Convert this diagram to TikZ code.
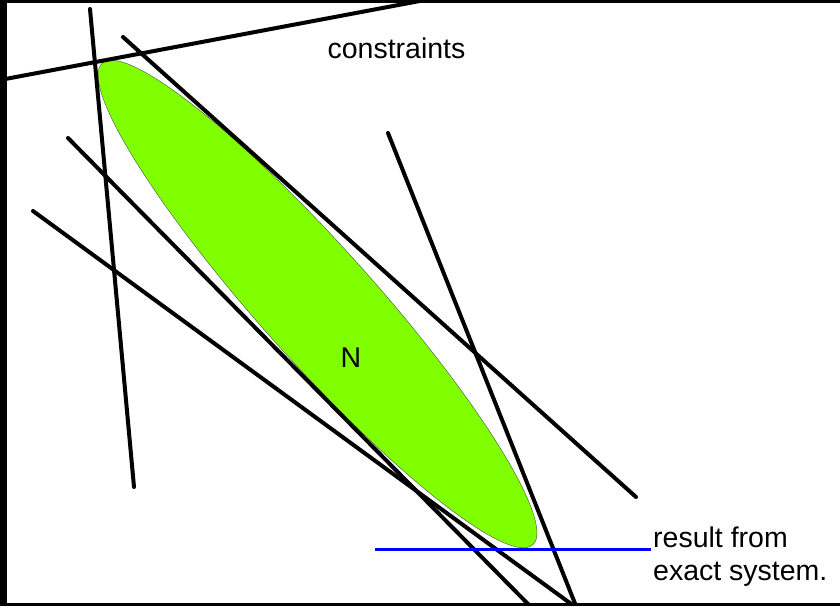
\documentclass[tikz,border=0pt]{standalone}
\usepackage{fontspec}
\setmainfont{Liberation Sans}
\usetikzlibrary{positioning}
\definecolor{regiongreen}{RGB}{128,255,0}
\definecolor{exactblue}{RGB}{0,0,255}
\tikzset{
  cline/.style={line width=4pt, line cap=round, black},
  exact/.style={line width=3pt, exactblue},
  region/.style={fill=regiongreen, draw=black!70, line width=0.4pt},
  lbl/.style={font=\fontsize{28.5}{33}\selectfont, inner sep=0pt}
}
\begin{document}
\begin{tikzpicture}[x=1pt, y=-1pt]
  % frame
  \fill[black] (0,0) rectangle (840,606);
  \fill[white] (7,3) rectangle (840,603);
  % feasible region
  \filldraw[region, rotate around={-48.2:(317.5,304)}] (317.5,304) ellipse [x radius=323pt, y radius=57pt];
  % constraints
  \begin{scope}
    \clip (7,3) rectangle (840,603);
    \draw[cline] (90,9) -- (134,487);
    \draw[cline] (0,80) -- (425,0);
    \draw[cline] (123,37) -- (636,497);
    \draw[cline] (68,138) -- (530,606);
    \draw[cline] (33,211) -- (574,606);
    \draw[cline] (388,133) -- (576,606);
  \end{scope}
  % labels
  \node[lbl, anchor=base] (constr) at (396.5,58) {constraints};
  \node[lbl, anchor=base] (nlabel) at (351,367) {N};
  \node[lbl, anchor=base west] (res1) at (653,547) {result from};
  \node[lbl, anchor=base west] (res2) at ([yshift=-33pt]res1.base west) {exact system.};
  \coordinate (exleft) at (375,549);
  \draw[exact, shorten >=2pt] (exleft) -- (exleft -| res1.west);
\end{tikzpicture}
\end{document}
